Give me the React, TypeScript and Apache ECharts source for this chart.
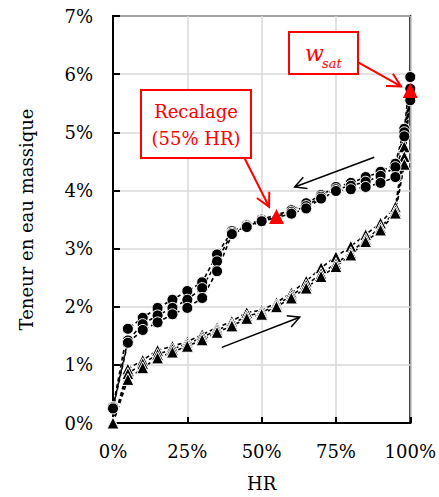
import React, { useEffect, useRef } from "react";
import * as echarts from "echarts";

// Sorption branch (triangles), three samples
const hrSorption = [0, 5, 10, 15, 20, 25, 30, 35, 40, 45, 50, 55, 60, 65, 70, 75, 80, 85, 90, 95, 98, 100];
const sorptionA = [0, 0.93, 1.08, 1.25, 1.32, 1.4, 1.52, 1.64, 1.75, 1.9, 1.94, 2.07, 2.24, 2.44, 2.67, 2.86, 3.04, 3.24, 3.44, 3.72, 4.75, 5.72];
const sorptionB = [0, 0.85, 1.02, 1.18, 1.27, 1.36, 1.47, 1.6, 1.7, 1.84, 1.9, 2.03, 2.19, 2.37, 2.57, 2.74, 2.93, 3.16, 3.36, 3.65, 4.58, 5.72];
const sorptionC = [0, 0.75, 0.95, 1.12, 1.22, 1.32, 1.43, 1.56, 1.67, 1.8, 1.87, 2.0, 2.15, 2.32, 2.52, 2.69, 2.89, 3.12, 3.32, 3.61, 4.45, 5.72];

// Desorption branch (circles), three samples
const hrDesorption = [100, 98, 95, 90, 85, 80, 75, 70, 65, 60, 50, 45, 40, 35, 30, 25, 20, 15, 10, 5, 0];
const desorptionA = [5.95, 5.06, 4.46, 4.32, 4.23, 4.13, 4.06, 3.92, 3.78, 3.66, 3.5, 3.4, 3.3, 2.9, 2.42, 2.27, 2.12, 1.98, 1.81, 1.62, 0.27];
const desorptionB = [5.75, 5.0, 4.4, 4.25, 4.15, 4.08, 4.02, 3.89, 3.73, 3.63, 3.48, 3.38, 3.27, 2.78, 2.32, 2.12, 1.98, 1.85, 1.7, 1.42, 0.27];
const desorptionC = [5.55, 4.93, 4.23, 4.13, 4.06, 4.02, 3.99, 3.86, 3.69, 3.6, 3.47, 3.37, 3.25, 2.61, 2.15, 1.98, 1.87, 1.73, 1.6, 1.38, 0.25];

// Highlighted points
const recalagePoint = [55, 3.55];
const saturationPoint = [100, 5.72];

// Axis ticks
const xTicks = [0, 25, 50, 75, 100];
const yTicks = [0, 1, 2, 3, 4, 5, 6, 7];

// Annotation arrows in data coordinates [from, to]
const arrowDesorption = [[87.9, 4.57], [61.1, 4.06]];
const arrowSorption = [[36.6, 1.3], [62.8, 1.82]];
const arrowRecalage = [[44.3, 4.55], [52.5, 3.72]];
const arrowSaturation = [[82.2, 6.21], [96.9, 5.79]];

const FONT = '"DejaVu Serif", "Liberation Serif", serif';
const RED = "#ff0000";

function makeSeries(name: string, hr: number[], vals: number[], symbol: string, size: number, hideLast: boolean) {
  return {
    name,
    type: "line",
    clip: false,
    symbol,
    symbolSize: size,
    data: hr.map((h, i) =>
      hideLast && i === hr.length - 1 ? { value: [h, vals[i]], symbol: "none" } : [h, vals[i]]
    ),
    itemStyle: { color: "#000", borderColor: "#fff", borderWidth: 1, opacity: 1 },
    lineStyle: { color: "#000", width: 1.6, type: [4, 3] },
    z: 3,
  };
}

export default function App() {
  const ref = useRef<HTMLDivElement>(null);
  useEffect(() => {
    if (!ref.current) return;
    const chart = echarts.init(ref.current, undefined, { renderer: "svg" });
    const option: any = {
      animation: false,
      backgroundColor: "#fff",
      grid: {
        left: 113,
        right: 28,
        top: 16,
        bottom: 73,
        show: true,
        borderColor: "#000",
        borderWidth: 2,
        backgroundColor: "transparent",
      },
      xAxis: {
        type: "value",
        min: xTicks[0],
        max: xTicks[xTicks.length - 1],
        interval: 25,
        name: "HR",
        nameLocation: "middle",
        nameGap: 51,
        nameTextStyle: { fontFamily: FONT, fontSize: 18, color: "#000" },
        axisLine: { show: true, lineStyle: { color: "#000", width: 2 } },
        axisTick: { show: true, inside: true, length: 6, lineStyle: { color: "#000", width: 2 } },
        axisLabel: {
          fontFamily: FONT,
          fontSize: 18,
          color: "#000",
          margin: 19,
          formatter: (v: number) => `${v}%`,
        },
        splitLine: { show: true, lineStyle: { color: "#d9d9d9", width: 1.5 } },
      },
      yAxis: {
        type: "value",
        min: yTicks[0],
        max: yTicks[yTicks.length - 1],
        interval: 1,
        name: "Teneur en eau massique",
        nameLocation: "middle",
        nameGap: 78,
        nameTextStyle: { fontFamily: FONT, fontSize: 18, color: "#000" },
        axisLine: { show: true, lineStyle: { color: "#000", width: 2 } },
        axisTick: { show: true, inside: true, length: 7, lineStyle: { color: "#000", width: 2 } },
        axisLabel: {
          fontFamily: FONT,
          fontSize: 18,
          color: "#000",
          margin: 20,
          formatter: (v: number) => `${v}%`,
        },
        splitLine: { show: true, lineStyle: { color: "#d9d9d9", width: 1.5 } },
      },
      series: [
        makeSeries("Sorption A", hrSorption, sorptionA, "triangle", 12, true),
        makeSeries("Sorption B", hrSorption, sorptionB, "triangle", 12, true),
        makeSeries("Sorption C", hrSorption, sorptionC, "triangle", 12, true),
        makeSeries("Désorption A", hrDesorption, desorptionA, "circle", 11, false),
        makeSeries("Désorption B", hrDesorption, desorptionB, "circle", 11, false),
        makeSeries("Désorption C", hrDesorption, desorptionC, "circle", 11, false),
        {
          name: "Points rouges",
          type: "scatter",
          clip: false,
          symbol: "triangle",
          symbolSize: 15,
          data: [recalagePoint, saturationPoint],
          itemStyle: { color: RED, opacity: 1 },
          z: 10,
        },
      ],
    };
    chart.setOption(option);

    const px = (p: number[]) => chart.convertToPixel({ gridIndex: 0 }, p) as number[];
    const arrow = (seg: number[][], color: string, width: number, headLen: number) => {
      const a = px(seg[0]);
      const b = px(seg[1]);
      const ang = Math.atan2(b[1] - a[1], b[0] - a[0]);
      const spread = Math.PI / 6.5;
      const h1 = [b[0] - headLen * Math.cos(ang - spread), b[1] - headLen * Math.sin(ang - spread)];
      const h2 = [b[0] - headLen * Math.cos(ang + spread), b[1] - headLen * Math.sin(ang + spread)];
      return [
        {
          type: "line",
          z: 20,
          shape: { x1: a[0], y1: a[1], x2: b[0], y2: b[1] },
          style: { stroke: color, lineWidth: width },
        },
        {
          type: "polyline",
          z: 20,
          shape: { points: [h1, b, h2] },
          style: { stroke: color, lineWidth: width, fill: null },
        },
      ];
    };

    const graphic: any[] = [
      ...arrow(arrowDesorption, "#000", 1.5, 13),
      ...arrow(arrowSorption, "#000", 1.5, 13),
      ...arrow(arrowRecalage, RED, 2, 15),
      ...arrow(arrowSaturation, RED, 2, 15),
      {
        type: "rect",
        z: 21,
        shape: { x: 141, y: 90, width: 110, height: 68 },
        style: { fill: "#fff", stroke: RED, lineWidth: 2 },
      },
      {
        type: "text",
        z: 22,
        x: 196,
        y: 125,
        style: {
          text: "Recalage\n(55% HR)",
          fill: RED,
          fontFamily: FONT,
          fontSize: 18,
          lineHeight: 27,
          align: "center",
          verticalAlign: "middle",
        },
      },
      {
        type: "rect",
        z: 21,
        shape: { x: 289, y: 32, width: 69, height: 42 },
        style: { fill: "#fff", stroke: RED, lineWidth: 2 },
      },
      {
        type: "text",
        z: 22,
        x: 305,
        y: 53,
        style: {
          text: "w",
          fill: RED,
          fontFamily: FONT,
          fontStyle: "italic",
          fontSize: 22,
          align: "left",
          verticalAlign: "middle",
        },
      },
      {
        type: "text",
        z: 22,
        x: 322,
        y: 63,
        style: {
          text: "sat",
          fill: RED,
          fontFamily: FONT,
          fontStyle: "italic",
          fontSize: 13,
          align: "left",
          verticalAlign: "middle",
        },
      },
    ];
    chart.setOption({ graphic });

    return () => chart.dispose();
  }, []);

  return (
    <div
      ref={ref}
      style={{ position: "fixed", left: 0, top: 0, width: 439, height: 497, background: "#fff" }}
    />
  );
}
